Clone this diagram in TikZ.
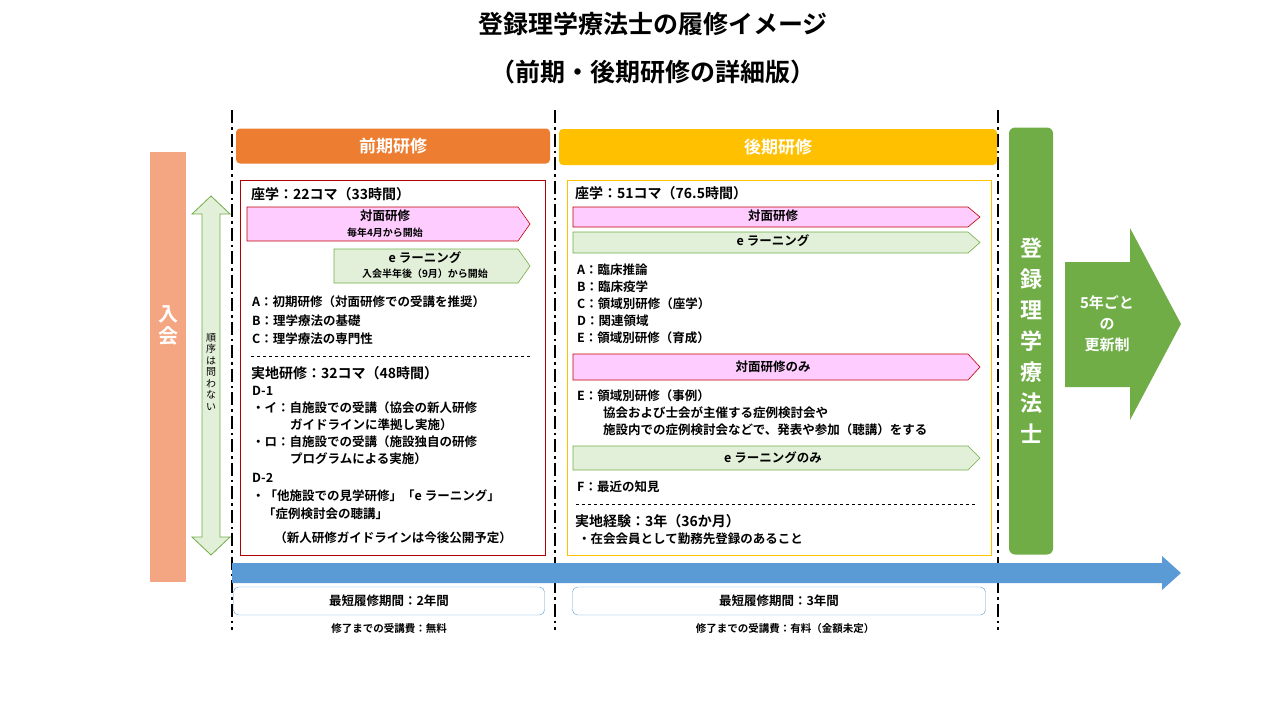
\documentclass[tikz,border=0pt]{standalone}
\usepackage{fontspec}
\setmainfont{Noto Sans CJK JP}[BoldFont={Noto Sans CJK JP Bold}]
\usetikzlibrary{arrows.meta,shapes.arrows}
\definecolor{salmon}{HTML}{F4A582}
\definecolor{orng}{HTML}{ED7D31}
\definecolor{gold}{HTML}{FFC000}
\definecolor{grn}{HTML}{70AD47}
\definecolor{lgrn}{HTML}{E2F0D9}
\definecolor{pnk}{HTML}{FFCCFF}
\definecolor{blu}{HTML}{5B9BD5}
\tikzset{
 txt/.style={anchor=west,inner sep=0pt,font=\fontsize{12.5}{15}\selectfont\bfseries},
 ctr/.style={inner sep=0pt,font=\fontsize{12.5}{15}\selectfont\bfseries,align=center},
 sep/.style={line width=2.2pt,dash pattern=on 13pt off 4pt on 2.5pt off 4pt},
 pinkar/.style={fill=pnk,draw=red!75!black,line width=0.6pt},
 greenar/.style={fill=lgrn,draw=grn,line width=0.6pt},
}
\newcommand{\pent}[5]{\draw[#5] (#1,#2) -- (#3-12,#2) -- (#3,#2/2+#4/2) -- (#3-12,#4) -- (#1,#4) -- cycle;}
\begin{document}
\begin{tikzpicture}[x=1pt,y=-1pt]
\useasboundingbox (0,0) rectangle (1280,720);
\node[font=\fontsize{25}{30}\selectfont\bfseries] (t1) at (653,24) {登録理学療法士の履修イメージ};
\node[font=\fontsize{25}{30}\selectfont\bfseries] (t2) at (653,72) {（前期・後期研修の詳細版）};
% separators
\draw[sep] (232,110) -- (232,630);
\draw[sep] (555,110) -- (555,630);
\draw[sep] (998,110) -- (998,630);
% blue arrow
\fill[blu] (232,563) -- (1162,563) -- (1162,556) -- (1181,573) -- (1162,590) -- (1162,583) -- (232,583) -- cycle;
% left entry
\fill[salmon] (150,152) rectangle (186,582);
\node[font=\fontsize{20}{22}\selectfont\bfseries,text=white,align=center] (nyu) at (168,325) {入\\会};
% double arrow
\draw[greenar,line width=0.8pt,fill=lgrn] (211,196) -- (230,214) -- (220,214) -- (220,537) -- (230,537) -- (211,555) -- (192,537) -- (202,537) -- (202,214) -- (192,214) -- cycle;
\node[font=\fontsize{10}{11.5}\selectfont,align=center] (jun) at (211,372) {順\\序\\は\\問\\わ\\な\\い};
% headers
\node[fill=orng,rounded corners=4pt,minimum width=314,minimum height=35,text=white,font=\fontsize{17}{20}\selectfont\bfseries] (zenki) at (393,146) {前期研修};
\node[fill=gold,rounded corners=4pt,minimum width=438,minimum height=36,text=white,font=\fontsize{17}{20}\selectfont\bfseries] (koki) at (778,147) {後期研修};
% content boxes
\draw[red!70!black,line width=0.7pt] (240,180) rectangle (545,555);
\draw[gold,line width=0.9pt] (567,180) rectangle (991,555);
% green tall box
\node[fill=grn,rounded corners=6pt,minimum width=44,minimum height=427,text=white,font=\fontsize{22}{31}\selectfont\bfseries,align=center] (reg) at (1031,341) {登\\録\\理\\学\\療\\法\\士};
% big arrow
\fill[grn] (1065,262) -- (1130,262) -- (1130,228) -- (1181,324) -- (1130,420) -- (1130,387) -- (1065,387) -- cycle;
\node[text=white,font=\fontsize{15}{21}\selectfont\bfseries,align=center] (upd) at (1107,324) {5年ごと\\の\\更新制};
% left content
\node[txt,font=\fontsize{14}{16}\selectfont\bfseries] (l1) at (251,194) {座学：22コマ（33時間）};
\pent{247}{207}{530}{241}{pinkar}
\node[ctr] (l2) at (385,216) {対面研修};
\node[ctr,font=\fontsize{10}{12}\selectfont\bfseries] (l3) at (385,233) {毎年4月から開始};
\pent{334}{249}{530}{283}{greenar}
\node[ctr] (l4) at (425,258) {e ラーニング};
\node[ctr,font=\fontsize{10}{12}\selectfont\bfseries] (l5) at (425,274) {入会半年後（9月）から開始};
\node[txt] (la) at (252,302) {A：初期研修（対面研修での受講を推奨）};
\node[txt] (lb) at (252,321) {B：理学療法の基礎};
\node[txt] (lc) at (252,339) {C：理学療法の専門性};
\draw[dashed,line width=0.6pt] (251,356) -- (530,356);
\node[txt,font=\fontsize{14}{16}\selectfont\bfseries] (ld) at (251,373) {実地研修：32コマ（48時間）};
\node[txt] (le) at (252,391) {D-1};
\node[txt] (lf) at (252,408) {・イ：自施設での受講（協会の新人研修};
\node[txt] (lg) at (290,425) {ガイドラインに準拠し実施）};
\node[txt] (lh) at (252,442) {・ロ：自施設での受講（施設独自の研修};
\node[txt] (li) at (290,459) {プログラムによる実施）};
\node[txt] (lj) at (252,478) {D-2};
\node[txt] (lk) at (252,496) {・「他施設での見学研修」「e ラーニング」};
\node[txt] (ll) at (263,514) {「症例検討会の聴講」};
\node[ctr] (lm) at (393,538) {（新人研修ガイドラインは今後公開予定）};
% right content
\node[txt,font=\fontsize{14}{16}\selectfont\bfseries] (r1) at (575,193) {座学：51コマ（76.5時間）};
\pent{573}{207}{980}{227}{pinkar}
\node[ctr] (r2) at (773,216) {対面研修};
\pent{573}{232}{980}{253}{greenar}
\node[ctr] (r3) at (773,241) {e ラーニング};
\node[txt] (ra) at (577,270) {A：臨床推論};
\node[txt] (rb) at (577,287) {B：臨床疫学};
\node[txt] (rc) at (577,304) {C：領域別研修（座学）};
\node[txt] (rd) at (577,321) {D：関連領域};
\node[txt] (re) at (577,338) {E：領域別研修（育成）};
\pent{573}{354}{980}{380}{pinkar}
\node[ctr] (r4) at (773,367) {対面研修のみ};
\node[txt] (rf) at (577,396) {E：領域別研修（事例）};
\node[txt] (rg) at (603,413) {協会および士会が主催する症例検討会や};
\node[txt] (rh) at (603,430) {施設内での症例検討会などで、発表や参加（聴講）をする};
\pent{573}{446}{980}{470}{greenar}
\node[ctr] (r5) at (773,458) {e ラーニングのみ};
\node[txt] (ri) at (577,487) {F：最近の知見};
\draw[dashed,line width=0.6pt] (576,504) -- (976,504);
\node[txt,font=\fontsize{14}{16}\selectfont\bfseries] (rj) at (575,521) {実地経験：3年（36か月）};
\node[txt] (rk) at (578,539) {・在会会員として勤務先登録のあること};
% bottom
\node[draw=blu,fill=white,rounded corners=5pt,minimum width=311,minimum height=28,ctr] (b1) at (389,601) {最短履修期間：2年間};
\node[draw=blu,fill=white,rounded corners=5pt,minimum width=413,minimum height=28,ctr] (b2) at (779,601) {最短履修期間：3年間};
\node[ctr,font=\fontsize{10.5}{12}\selectfont\bfseries] (c1) at (389,628) {修了までの受講費：無料};
\node[ctr,font=\fontsize{10.5}{12}\selectfont\bfseries] (c2) at (785,629) {修了までの受講費：有料（金額未定）};
\end{tikzpicture}
\end{document}
